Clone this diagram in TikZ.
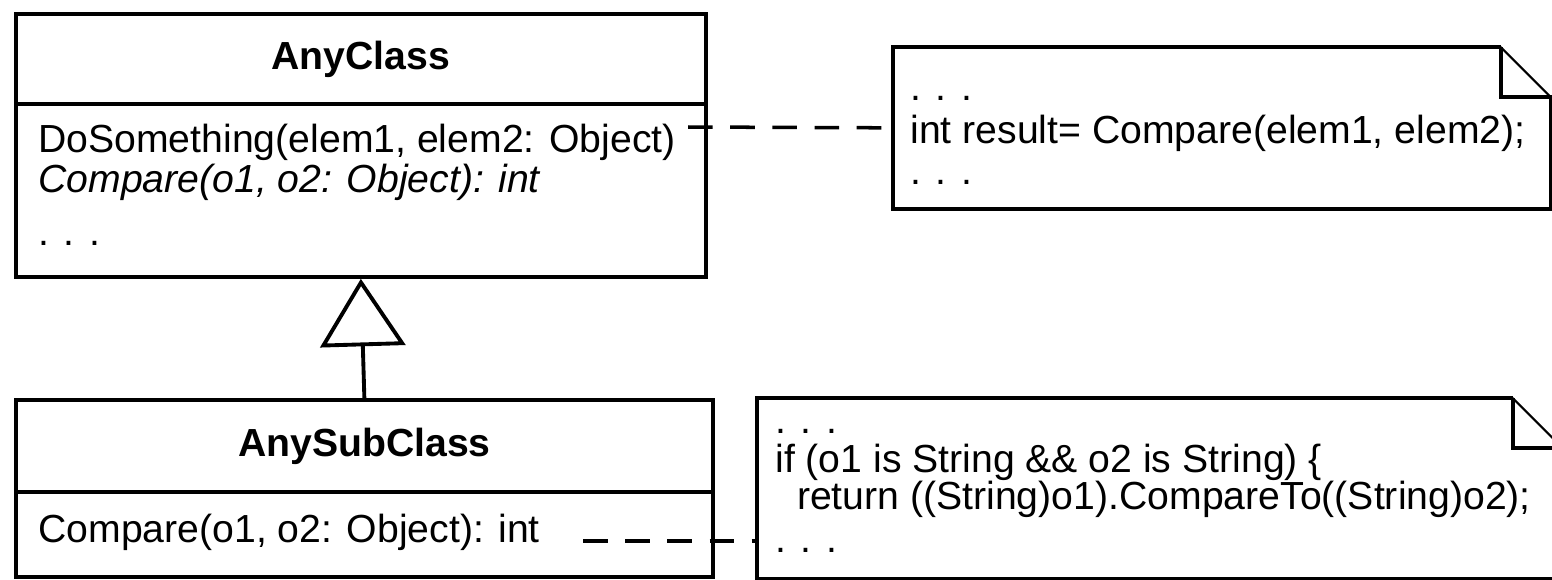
\documentclass[tikz,border=0pt]{standalone}
\usepackage{fontspec}
\setmainfont{Liberation Sans}
\usetikzlibrary{positioning,arrows.meta}

\newcommand\umlfont{\fontsize{22.3}{23}\selectfont}

\tikzset{
  part/.style={draw, line width=2.2pt, anchor=north west, inner sep=0pt, font=\umlfont\bfseries},
  notebox/.style={anchor=north west, inner sep=0pt},
  txt/.style={anchor=base west, inner sep=0pt, font=\umlfont},
  dep/.style={line width=2pt, dash pattern=on 14pt off 10pt},
  inherit/.style={line width=2.2pt, -{Triangle[open, length=1.35cm, width=1.7cm]}}
}

% folded note outline around a node
\newcommand\notefold[1]{
  \draw[line width=2.2pt] ([xshift=-1cm]#1.north east) -- (#1.north west) -- (#1.south west)
    -- (#1.south east) -- ([yshift=-1cm]#1.north east) -| ([xshift=-1cm]#1.north east);
  \draw[line width=1.2pt] ([xshift=-1cm]#1.north east) -- ([yshift=-1cm]#1.north east);
}

\begin{document}
\begin{tikzpicture}[x=0.02cm, y=-0.02cm]
\useasboundingbox (0,0) rectangle (1552,579);

% super class
\node[part, minimum width=13.8cm, minimum height=1.8cm] (anyname) at (14,12) {AnyClass};
\node[part, minimum width=13.8cm, minimum height=3.46cm] (anybody) at (14,102) {};
\node[txt] (dosth) at (38,152) {DoSomething(elem1, elem2: Object)};
\node[txt, font=\umlfont\itshape] (cmpabs) at (38,192) {Compare(o1, o2: Object): int};
\node[txt] (anydots) at (38,245) {. . .};

% sub class
\node[part, minimum width=13.94cm, minimum height=1.84cm] (subname) at (14,398) {AnySubClass};
\node[part, minimum width=13.94cm, minimum height=1.7cm] (subbody) at (14,490) {};
\node[txt] (cmpsub) at (38,542) {Compare(o1, o2: Object): int};

% notes
\node[notebox, minimum width=13.14cm, minimum height=3.22cm] (n1) at (893,47) {};
\notefold{n1}
\node[txt] (n1a) at (910,100) {. . .};
\node[txt] (n1b) at (910,143) {int result= Compare(elem1, elem2);};
\node[txt] (n1c) at (910,184) {. . .};

\node[notebox, minimum width=16.1cm, minimum height=3.6cm] (n2) at (757,398) {};
\notefold{n2}
\node[txt] (n2a) at (775,433) {. . .};
\node[txt] (n2b) at (775,472) {if (o1 is String \&\& o2 is String) \{};
\node[txt] (n2c) at (775,509) {\ \ return ((String)o1).CompareTo((String)o2);};
\node[txt] (n2d) at (775,552) {. . .};

% connectors
\draw[inherit] (subname.north) -- (anybody.south);
\coordinate (from1) at (688,127);
\draw[dep] (from1) -- (n1.west);
\coordinate (from2) at (583,541);
\draw[dep] (from2) -- (from2 -| n2.west);
\end{tikzpicture}
\end{document}
